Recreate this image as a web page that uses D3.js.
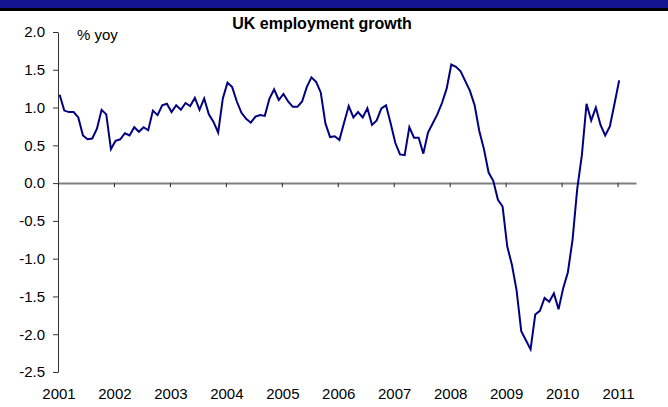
<!DOCTYPE html>
<html>
<head>
  <meta charset="utf-8">
  <script src="https://cdn.jsdelivr.net/npm/d3@7"></script>
  <style>body { margin: 0; background: #fff }</style>
</head>
<body>
  <div id="chart"></div>

  <script>
    const title = 'UK employment growth';
    const unitLabel = '% yoy';

    // monthly, Jan 2001 .. Jan 2011
    const startYear = 2001;
    const yoy = [
      1.17, 0.96, 0.94, 0.94, 0.87, 0.63, 0.58, 0.59, 0.72, 0.97, 0.91, 0.45,
      0.56, 0.58, 0.66, 0.63, 0.74, 0.68, 0.74, 0.70, 0.96, 0.90, 1.03, 1.05,
      0.94, 1.03, 0.97, 1.06, 1.02, 1.13, 0.97, 1.12, 0.91, 0.81, 0.67, 1.12,
      1.33, 1.27, 1.08, 0.93, 0.85, 0.80, 0.88, 0.90, 0.89, 1.12, 1.24, 1.10,
      1.18, 1.08, 1.01, 1.01, 1.08, 1.27, 1.40, 1.34, 1.20, 0.79, 0.61, 0.62,
      0.57, 0.80, 1.02, 0.87, 0.94, 0.87, 0.99, 0.77, 0.83, 0.99, 1.03, 0.79,
      0.53, 0.38, 0.37, 0.74, 0.60, 0.60, 0.39, 0.67, 0.79, 0.91, 1.06, 1.25,
      1.57, 1.54, 1.48, 1.35, 1.22, 1.03, 0.69, 0.45, 0.14, 0.03, -0.22, -0.31,
      -0.84, -1.08, -1.42, -1.96, -2.08, -2.20, -1.74, -1.69, -1.52, -1.57, -1.46, -1.67,
      -1.39, -1.18, -0.75, -0.08, 0.37, 1.05, 0.83, 1.00, 0.77, 0.63, 0.75, 1.05,
      1.36
    ];

    const yearTicks = [2001, 2002, 2003, 2004, 2005, 2006, 2007, 2008, 2009, 2010, 2011];
    const yTicks = [2.0, 1.5, 1.0, 0.5, 0.0, -0.5, -1.0, -1.5, -2.0, -2.5];

    const width = 668;
    const height = 407;
    const font = 'Arial, "Liberation Sans", sans-serif';

    const svg = d3.select('#chart').append('svg')
      .attr('width', width)
      .attr('height', height)
      .style('font-family', font);

    // cropped slide header
    svg.append('rect').attr('x', 0).attr('y', 0).attr('width', width).attr('height', 8).attr('fill', '#141490');
    svg.append('rect').attr('x', 0).attr('y', 8).attr('width', width).attr('height', 3).attr('fill', '#000');

    const x = d3.scaleLinear().domain([2001, 2011.33]).range([58, 636]);
    const y = d3.scaleLinear().domain([-2.5, 2]).range([372, 32]);

    const points = yoy.map((v, i) => ({ t: startYear + (i + 0.35) / 12, v }));

    // y axis
    const yAxis = svg.append('g')
      .attr('transform', 'translate(58,0)')
      .call(d3.axisLeft(y).tickValues(yTicks).tickSize(5).tickSizeOuter(0).tickPadding(8)
        .tickFormat(v => v.toFixed(1)));
    yAxis.select('.domain').attr('stroke', '#333');
    yAxis.selectAll('.tick line').attr('stroke', '#333');
    yAxis.selectAll('text').attr('font-size', 15).attr('fill', '#000').attr('font-family', font);

    // zero line with year ticks
    const xAxis = svg.append('g')
      .attr('transform', `translate(0,${y(0)})`)
      .call(d3.axisBottom(x).tickValues(yearTicks).tickSize(4).tickSizeOuter(0).tickFormat(''));
    xAxis.select('.domain').attr('stroke', '#808080').attr('stroke-width', 2);
    xAxis.selectAll('.tick line').attr('stroke', '#222');

    // year labels at the bottom
    svg.append('g').selectAll('text')
      .data(yearTicks)
      .join('text')
      .attr('x', d => x(d) + 1)
      .attr('y', 399)
      .attr('text-anchor', 'middle')
      .attr('font-size', 15)
      .text(d => d);

    const line = d3.line()
      .x(d => x(d.t))
      .y(d => y(d.v));

    svg.append('path')
      .datum(points)
      .attr('fill', 'none')
      .attr('stroke', '#000080')
      .attr('stroke-width', 2)
      .attr('d', line);

    svg.append('text')
      .attr('x', 322)
      .attr('y', 29)
      .attr('text-anchor', 'middle')
      .attr('font-size', 16)
      .attr('font-weight', 'bold')
      .text(title);

    svg.append('text')
      .attr('x', 77)
      .attr('y', 40)
      .attr('font-size', 15)
      .text(unitLabel);
  </script>
</body>
</html>
